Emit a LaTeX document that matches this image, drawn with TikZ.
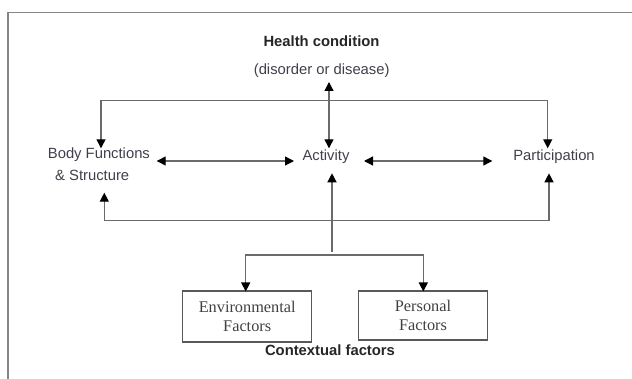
\documentclass[tikz,border=0pt]{standalone}
\usepackage{fontspec}
\setmainfont{Liberation Serif}
\setsansfont{Liberation Sans}
\usetikzlibrary{arrows.meta}
\definecolor{linegray}{HTML}{6A6A6A}
\definecolor{framegray}{HTML}{858585}
\definecolor{txtgray}{HTML}{40404C}
\tikzset{
  conn/.style={draw=linegray, line width=1.25pt, arrows={-Triangle[length=9pt,width=9pt,color=black]}},
  bothconn/.style={draw=linegray, line width=1.25pt, arrows={Triangle[length=9pt,width=9pt,color=black]-Triangle[length=9pt,width=9pt,color=black]}},
  lbl/.style={font=\sffamily\fontsize{14.8}{22}\selectfont, text=txtgray, inner sep=0pt},
  blbl/.style={font=\sffamily\bfseries\fontsize{14.8}{18}\selectfont, text=black!85, inner sep=0pt},
  factorbox/.style={draw=black!65, line width=1.2pt, font=\rmfamily\fontsize{16.3}{19.5}\selectfont, text=black!75, align=center, inner sep=0pt}
}
\begin{document}
\begin{tikzpicture}[x=1pt,y=-1pt]
\useasboundingbox (0,0) rectangle (632,379);
% frame
\draw[framegray, line width=1.5pt] (8,379) -- (8,12.7) -- (632,12.7);
% nodes
\node[blbl] (hc) at (321.5,41) {Health condition};
\node[lbl] (dd) at (321.7,71) {(disorder or disease)};
\node[lbl, align=left, anchor=north west] (body) at (47.7,148) {Body Functions\\\hspace*{7.3pt}\& Structure};
\node[lbl] (act) at (326,157) {Activity};
\node[lbl] (part) at (554,157) {Participation};
\node[factorbox, minimum width=129pt, minimum height=51pt] (env) at (247.2,316.5) {Environmental\\Factors};
\node[factorbox, minimum width=129.4pt, minimum height=49pt] (pers) at (423,315.5) {Personal\\Factors};
\node[blbl] (ctx) at (330,350) {Contextual factors};
% connector end points
\coordinate (hUp) at (329,82);
\coordinate (actTopIn) at (329,148.3);
\coordinate (bodyTopIn) at (101,148.3);
\coordinate (topJoin) at (329,100.7);
\coordinate (partTopIn) at (547.7,148.3);
\coordinate (bodyRight) at (156.7,161);
\coordinate (actLeft) at (294,161);
\coordinate (actRight) at (364,161);
\coordinate (partLeft) at (492.3,161);
\coordinate (bodyBotIn) at (104.3,192.7);
\coordinate (botJoin) at (332,220.7);
\coordinate (partBotIn) at (549,173.3);
\coordinate (actBotIn) at (332,173.3);
\coordinate (ctxStem) at (332,252);
\coordinate (branchJoin) at (332,255);
\coordinate (envIn) at (245.7,291.5);
\coordinate (persIn) at (423.3,291.5);
% connectors
\draw[bothconn] (hUp) -- (actTopIn);
\draw[bothconn] (bodyTopIn) |- (topJoin) -| (partTopIn);
\draw[bothconn] (bodyRight) -- (actLeft);
\draw[bothconn] (actRight) -- (partLeft);
\draw[bothconn] (bodyBotIn) |- (botJoin) -| (partBotIn);
\draw[conn] (ctxStem) -- (actBotIn);
\draw[bothconn] (envIn) |- (branchJoin) -| (persIn);
\end{tikzpicture}
\end{document}
